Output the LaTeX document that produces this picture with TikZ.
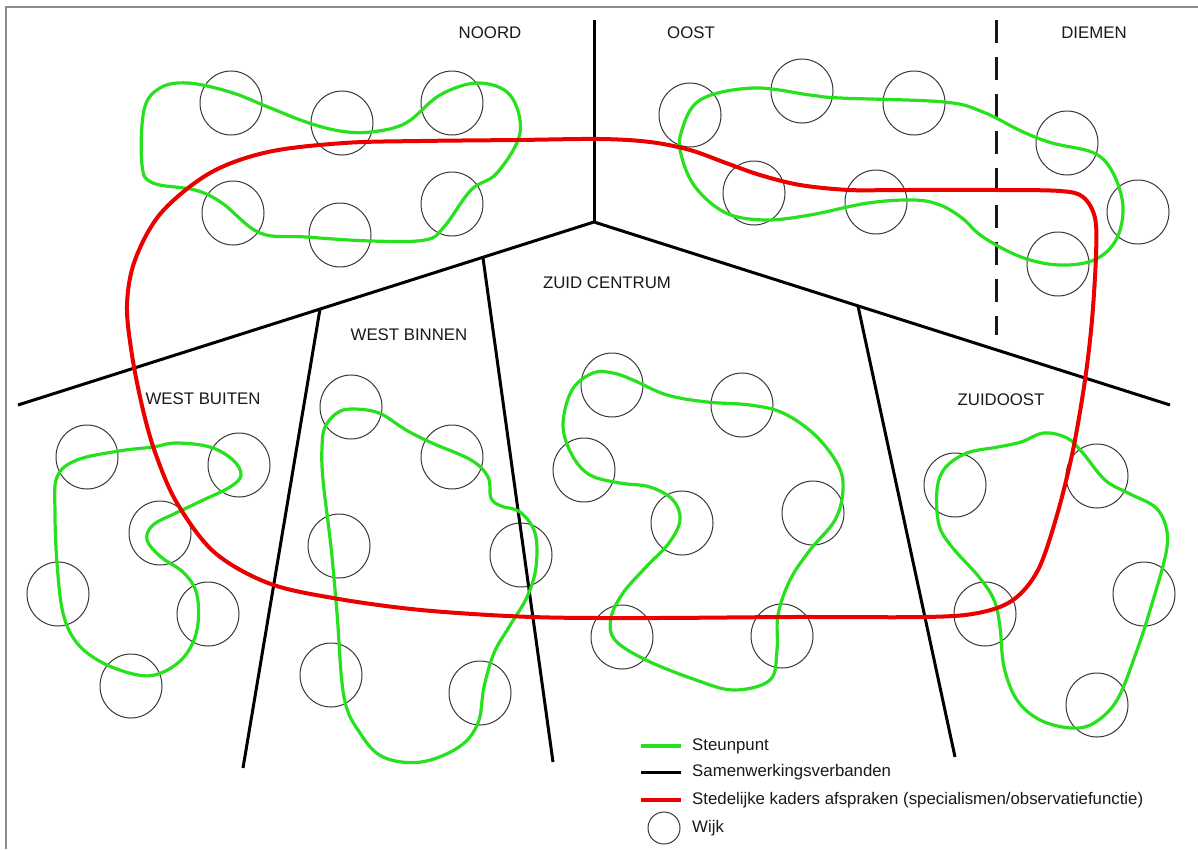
\documentclass[tikz,border=0pt]{standalone}
\usepackage{fontspec}
\setmainfont{Liberation Sans}
\definecolor{lgreen}{RGB}{40,225,30}
\definecolor{lred}{RGB}{235,0,0}
\definecolor{txt}{RGB}{25,25,25}
\definecolor{wijkc}{RGB}{55,55,55}
\begin{document}
\begin{tikzpicture}[x=1pt,y=-1pt,
  lbl/.style={text=txt,font=\fontsize{16.8}{19}\selectfont,inner sep=0pt},
  leg/.style={lbl,anchor=west},
  sw/.style={draw=black,line width=3pt},
  dashsw/.style={draw=black!90,line width=3pt,dash pattern=on 23pt off 14pt},
  steun/.style={draw=lgreen,line width=3.2pt},
  kader/.style={draw=lred,line width=4pt},
  wijk/.style={draw=wijkc,line width=1pt},
  frame/.style={draw=black!45,line width=2pt}]
\useasboundingbox (0,0) rectangle (1198,849);
\fill[white] (0,0) rectangle (1198,849);
\draw[frame] (6,849) -- (6,7) -- (1198,7);

% wijken
\foreach \p in {(231,103),(342,123),(452,103),(233,213),(340,235),(452,204),
  (690,115),(802,91),(914,103),(754,193),(876,202),(1067,143),(1138,212),(1058,264),
  (87,457),(239,465),(160,533),(58,594),(208,614),(131,686),
  (351,407),(452,457),(339,546),(521,555),(331,675),(480,693),
  (612,385),(742,405),(584,470),(682,523),(813,513),(622,637),(782,636),
  (955,485),(1097,476),(985,614),(1144,594),(1097,705)}
  \draw[wijk] \p ellipse[x radius=31pt,y radius=32pt];

% samenwerkingsverbanden
\coordinate (top) at (594,20);
\coordinate (apex) at (594,222);
\coordinate (wl) at (18,405);
\coordinate (er) at (1170,405);
\coordinate (j1) at (320,309);
\coordinate (j2) at (483,258);
\coordinate (j3) at (858,306);
\coordinate (b1) at (243,768);
\coordinate (b2) at (553,762);
\coordinate (b3) at (955,757);
\coordinate (dt) at (996,20);
\coordinate (db) at (996,335);
\draw[sw] (top) -- (apex);
\draw[sw] (wl) -- (apex) -- (er);
\draw[sw] (j1) -- (b1);
\draw[sw] (j2) -- (b2);
\draw[sw] (j3) -- (b3);
\draw[dashsw] (dt) -- (db);

% steunpunten
\draw[steun] plot[smooth cycle,tension=0.6] coordinates {
  (188,83) (230,92) (268,107) (306,122) (340,131) (371,132) (406,123) (440,95) (478,83)
  (510,95) (520,133) (497,173) (471,190) (444,227) (425,240) (371,241) (306,237)
  (260,233) (222,203) (195,190) (153,183) (142,165) (144,110) (160,88)};
\draw[steun] plot[smooth cycle,tension=0.6] coordinates {
  (681,133) (700,100) (753,88) (810,95) (840,98) (944,102) (983,112) (1021,131)
  (1052,143) (1094,153) (1113,173) (1123,207) (1116,240) (1094,260) (1059,265)
  (1021,257) (983,237) (962,218) (940,205) (914,200) (868,203) (810,215) (765,220)
  (726,213) (696,188) (682,158)};
\draw[steun] plot[smooth cycle,tension=0.6] coordinates {
  (57,477) (77,460) (119,451) (153,447) (176,443) (210,447) (233,460) (241,475)
  (230,487) (199,502) (176,513) (153,525) (147,540) (161,557) (184,573) (197,595)
  (197,630) (184,657) (161,673) (138,675) (103,663) (77,643) (63,613) (57,563) (55,513)};
\draw[steun] plot[smooth cycle,tension=0.6] coordinates {
  (325,427) (337,413) (352,409) (379,413) (406,430) (432,443) (471,460) (488,477)
  (491,498) (501,506) (520,512) (535,533) (536,567) (527,597) (509,627) (494,653)
  (484,687) (478,723) (459,747) (421,762) (383,757) (360,733) (344,697) (337,613)
  (331,547) (323,480) (322,447)};
\draw[steun] plot[smooth cycle,tension=0.6] coordinates {
  (593,373) (613,373) (633,380) (667,395) (707,402) (750,405) (783,413) (815,435)
  (838,465) (843,490) (835,520) (810,550) (790,580) (778,615) (777,650) (770,680)
  (734,690) (696,680) (646,660) (615,640) (611,618) (623,593) (646,567) (669,543)
  (680,520) (673,500) (650,487) (620,483) (590,475) (572,455) (563,425) (572,390)};
\draw[steun] plot[smooth cycle,tension=0.6] coordinates {
  (1021,442) (1044,433) (1067,438) (1082,452) (1105,480) (1128,493) (1155,507)
  (1166,527) (1166,553) (1151,607) (1136,653) (1117,700) (1094,723) (1071,728)
  (1040,720) (1017,700) (1004,667) (1000,627) (994,600) (979,577) (952,547)
  (939,525) (937,490) (945,468) (967,453) (998,447)};

% stedelijke kaders
\draw[kader] plot[smooth cycle,tension=0.55] coordinates {
  (600,139) (517,140) (420,141) (344,143) (268,152) (210,173) (161,213) (135,260)
  (127,305) (132,355) (143,410) (156,455) (177,503) (214,552) (268,583) (333,598)
  (421,610) (532,617) (650,618) (791,617) (925,617) (978,613) (1013,600) (1038,570)
  (1057,515) (1073,450) (1085,380) (1092,320) (1096,255) (1095,218) (1083,197)
  (1060,191) (998,190) (900,190) (849,190) (800,185) (760,175) (726,163) (690,150)
  (650,142)};

% labels
\node[lbl] (noord) at (490,33) {NOORD};
\node[lbl] (oost) at (691,33) {OOST};
\node[lbl] (diemen) at (1094,33) {DIEMEN};
\node[lbl] (zc) at (607,283) {ZUID CENTRUM};
\node[lbl] (wbi) at (409,335) {WEST BINNEN};
\node[lbl] (wbu) at (203,399) {WEST BUITEN};
\node[lbl] (zo) at (1001,400) {ZUIDOOST};

% legend
\draw[steun] (641,746) -- (681,746);
\draw[sw] (641,772) -- (681,772);
\draw[kader] (641,800) -- (681,800);
\draw[wijk] (664,828) ellipse[x radius=16pt,y radius=16pt];
\node[leg] (l1) at (692,746) {Steunpunt};
\node[leg] (l2) at (692,772) {Samenwerkingsverbanden};
\node[leg] (l3) at (692,800) {Stedelijke kaders afspraken (specialismen/observatiefunctie)};
\node[leg] (l4) at (692,828) {Wijk};
\end{tikzpicture}
\end{document}
